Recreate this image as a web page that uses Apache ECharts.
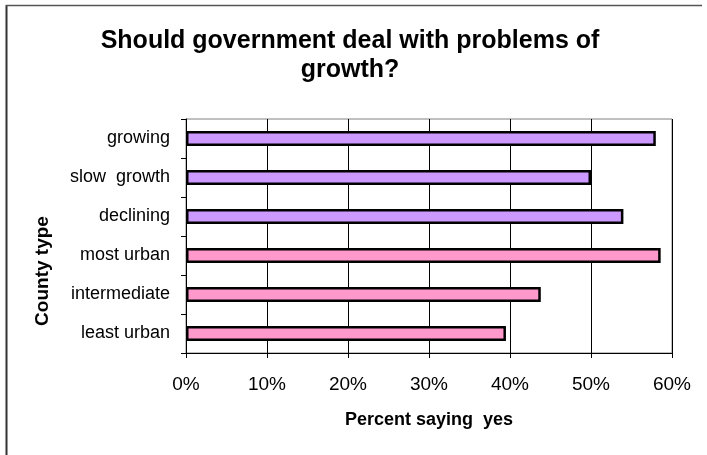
<!DOCTYPE html>
<html>
<head>
<meta charset="utf-8">
<script src="https://cdn.jsdelivr.net/npm/echarts@6/dist/echarts.min.js"></script>
<style>
  html, body { margin: 0; padding: 0; background: #fff; }
  #chart { width: 707px; height: 455px; }
</style>
</head>
<body>
<div id="chart"></div>
<script>
// county types, top to bottom
const categories = ['growing', 'slow  growth', 'declining', 'most urban', 'intermediate', 'least urban']
// percent saying yes
const values = [58, 50, 54, 58.6, 43.8, 39.5]
const barColors = ['#cc99ff', '#cc99ff', '#cc99ff', '#ff99cc', '#ff99cc', '#ff99cc']
const xTicks = [0, 10, 20, 30, 40, 50, 60]

const font = 'Arial, "Liberation Sans", sans-serif'
const chart = echarts.init(document.getElementById('chart'))

const option = {
  animation: false,
  grid: {
    left: 186,
    right: 35,
    top: 119,
    bottom: 102,
    show: true,
    borderColor: '#808080',
    borderWidth: 1
  },
  xAxis: {
    type: 'value',
    min: xTicks[0],
    max: xTicks[xTicks.length - 1],
    interval: 10,
    name: 'Percent saying  yes',
    nameLocation: 'middle',
    nameGap: 58,
    nameTextStyle: { fontFamily: font, fontWeight: 'bold', fontSize: 18, color: '#000' },
    axisLine: { show: true, lineStyle: { color: '#000', width: 1 } },
    axisTick: { show: true, length: 5, lineStyle: { color: '#000' } },
    axisLabel: {
      margin: 22,
      fontFamily: font,
      fontSize: 19,
      color: '#000',
      formatter: (v) => v + '%'
    },
    splitLine: { show: true, lineStyle: { color: '#000', width: 1 } }
  },
  yAxis: {
    type: 'category',
    inverse: true,
    data: categories,
    axisLine: { show: true, lineStyle: { color: '#000', width: 1 } },
    axisTick: { show: true, length: 5, lineStyle: { color: '#000' } },
    axisLabel: { margin: 16, fontFamily: font, fontSize: 18, color: '#000' }
  },
  graphic: [
    {
      type: 'text',
      x: 350,
      y: 41,
      style: {
        text: 'Should government deal with problems of',
        font: 'bold 25px ' + font,
        fill: '#000',
        align: 'center',
        verticalAlign: 'middle'
      }
    },
    {
      type: 'text',
      x: 350,
      y: 70,
      style: {
        text: 'growth?',
        font: 'bold 25px ' + font,
        fill: '#000',
        align: 'center',
        verticalAlign: 'middle'
      }
    },
    {
      type: 'text',
      x: 43,
      y: 271,
      rotation: Math.PI / 2,
      style: {
        text: 'County type',
        font: 'bold 19px ' + font,
        fill: '#000',
        align: 'center',
        verticalAlign: 'middle'
      }
    },
    {
      type: 'line',
      shape: { x1: 6.5, y1: 5, x2: 6.5, y2: 455 },
      style: { stroke: '#333', lineWidth: 2 }
    },
    {
      type: 'line',
      shape: { x1: 6, y1: 5.5, x2: 702, y2: 5.5 },
      style: { stroke: '#555', lineWidth: 1.5 }
    }
  ],
  series: [
    {
      type: 'bar',
      barWidth: 15,
      data: values.map((v, i) => ({
        value: v,
        itemStyle: { color: barColors[i] }
      })),
      itemStyle: { borderColor: '#000', borderWidth: 2.5 }
    }
  ]
}

chart.setOption(option)
</script>
</body>
</html>
